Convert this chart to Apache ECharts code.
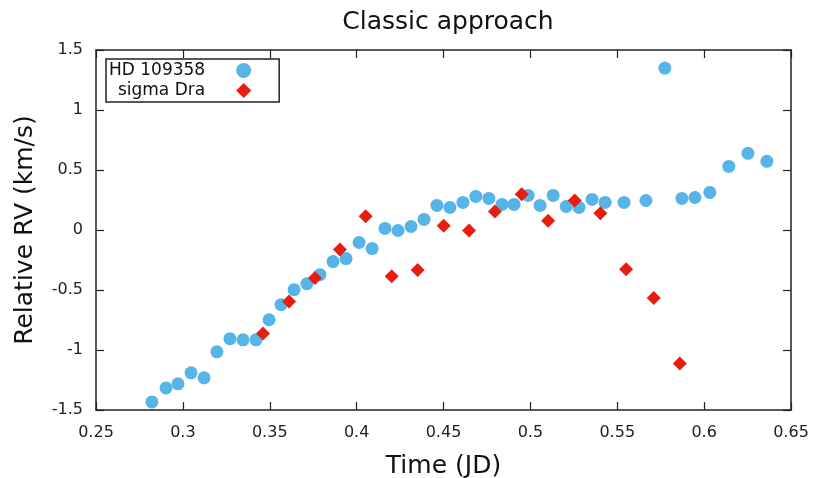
<!DOCTYPE html>
<html>
<head>
<meta charset="utf-8">
<script src="https://cdn.jsdelivr.net/npm/echarts@6/dist/echarts.min.js"></script>
<style>html,body{margin:0;padding:0;background:#fff;overflow:hidden}#c{width:815px;height:478px}</style>
</head>
<body>
<div id="c"></div>
<script>
// Data
const hdTime = [0.2822,0.2903,0.2972,0.3047,0.3122,0.3196,0.3271,0.3346,0.3421,0.3496,0.3565,0.3640,0.3714,0.3789,0.3864,0.3939,0.4014,0.4089,0.4163,0.4238,0.4313,0.4388,0.4462,0.4537,0.4612,0.4686,0.4761,0.4837,0.4906,0.4987,0.5056,0.5131,0.5206,0.5280,0.5355,0.5430,0.5539,0.5665,0.5774,0.5872,0.5947,0.6033,0.6142,0.6252,0.6361];
const hdRV   = [-1.433,-1.316,-1.282,-1.190,-1.232,-1.015,-0.906,-0.915,-0.915,-0.748,-0.622,-0.497,-0.447,-0.372,-0.263,-0.238,-0.104,-0.155,0.013,-0.004,0.029,0.088,0.205,0.188,0.230,0.280,0.263,0.213,0.213,0.288,0.205,0.288,0.196,0.188,0.255,0.230,0.230,0.246,1.349,0.263,0.271,0.313,0.530,0.639,0.572];
const sdTime = [0.3461,0.3611,0.3760,0.3904,0.4052,0.4202,0.4351,0.4501,0.4647,0.4796,0.4950,0.5102,0.5255,0.5403,0.5551,0.5710,0.5860];
const sdRV   = [-0.862,-0.595,-0.399,-0.163,0.115,-0.386,-0.333,0.035,-0.004,0.155,0.297,0.077,0.246,0.140,-0.327,-0.566,-1.113];
const xTicks = ['0.25','0.3','0.35','0.4','0.45','0.5','0.55','0.6','0.65'];
const yTicks = ['-1.5','-1','-0.5','0','0.5','1','1.5'];
const seriesNames = ['HD 109358','sigma Dra'];

const FONT = 'DejaVu Sans';
const axisColor = '#222';
const chart = echarts.init(document.getElementById('c'), null, {renderer:'canvas'});
const xFmt = v => { const i = Math.round((v - 0.25) / 0.05); return xTicks[i] !== undefined ? xTicks[i] : ''; };
const yFmt = v => { const i = Math.round((v + 1.5) / 0.5); return yTicks[i] !== undefined ? yTicks[i] : ''; };
const baseAxis = {
  axisLine: {show: true, onZero: false, lineStyle: {color: axisColor, width: 1.5}},
  axisTick: {show: true, inside: true, length: 8, lineStyle: {color: axisColor, width: 1.2}},
  splitLine: {show: false}
};
chart.setOption({
  animation: false,
  backgroundColor: '#fff',
  textStyle: {fontFamily: FONT},
  title: {
    text: 'Classic approach', left: 443, top: 5, textAlign: 'center',
    textStyle: {fontFamily: FONT, fontSize: 25, fontWeight: 'normal', color: '#111'}
  },
  grid: {left: 96, right: 24, top: 50, bottom: 68, containLabel: false, outerBoundsMode: 'none'},
  legend: {
    left: 106, top: 59, orient: 'vertical', align: 'right',
    data: seriesNames,
    itemWidth: 15, itemHeight: 15, itemGap: 3,
    padding: [3, 28, 3, 3],
    borderColor: '#222', borderWidth: 1.5, borderRadius: 0,
    backgroundColor: '#fff',
    formatter: n => '{t|' + n + '}{s|}',
    textStyle: {
      fontFamily: FONT, fontSize: 17, color: '#111',
      rich: {t: {width: 96, align: 'right', fontFamily: FONT, fontSize: 17, color: '#111'}, s: {width: 26}}
    }
  },
  xAxis: [
    Object.assign({}, baseAxis, {
      type: 'value', min: 0.25, max: 0.65, interval: 0.05, position: 'bottom',
      name: 'Time (JD)', nameLocation: 'middle', nameGap: 44,
      nameTextStyle: {fontFamily: FONT, fontSize: 25, color: '#111'},
      axisLabel: {formatter: xFmt, fontFamily: FONT, fontSize: 16, color: '#222', margin: 15}
    }),
    Object.assign({}, baseAxis, {
      type: 'value', min: 0.25, max: 0.65, interval: 0.05, position: 'top',
      axisLabel: {show: false}
    })
  ],
  yAxis: [
    Object.assign({}, baseAxis, {
      type: 'value', min: -1.5, max: 1.5, interval: 0.5, position: 'left',
      name: 'Relative RV (km/s)', nameLocation: 'middle', nameGap: 58, nameRotate: 90,
      nameTextStyle: {fontFamily: FONT, fontSize: 25, color: '#111'},
      axisLabel: {formatter: yFmt, fontFamily: FONT, fontSize: 16, color: '#222', margin: 13}
    }),
    Object.assign({}, baseAxis, {
      type: 'value', min: -1.5, max: 1.5, interval: 0.5, position: 'right',
      axisLabel: {show: false}
    })
  ],
  series: [
    {
      name: seriesNames[0], type: 'scatter', symbol: 'circle', symbolSize: 13,
      itemStyle: {color: '#56b4e9', opacity: 1},
      data: hdTime.map((t, i) => [t, hdRV[i]]), z: 2
    },
    {
      name: seriesNames[1], type: 'scatter', symbol: 'diamond', symbolSize: 14,
      itemStyle: {color: '#e51e10', opacity: 1},
      data: sdTime.map((t, i) => [t, sdRV[i]]), z: 3
    }
  ]
});
</script>
</body>
</html>
